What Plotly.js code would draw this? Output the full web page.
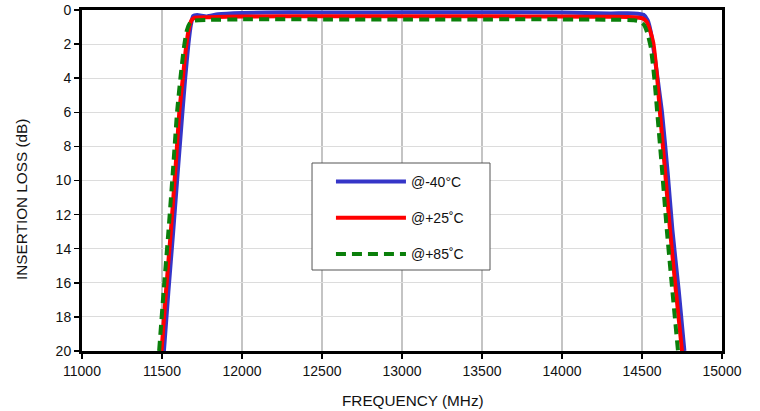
<!DOCTYPE html>
<html>
<head>
<meta charset="utf-8">
<script src="https://cdn.plot.ly/plotly-3.0.1.min.js"></script>
<style>html,body{margin:0;padding:0;background:#fff;}#chart{width:760px;height:411px;}</style>
</head>
<body>
<div id="chart"></div>
<script>
// Series names
const seriesNames = ["@-40°C", "@+25˚C", "@+85˚C"];

// @-40°C
const freqM40 = [11512, 11540, 11570, 11600, 11625, 11645, 11665, 11680, 11695, 11720, 11780, 11850, 12000, 12300, 12700, 13000, 13500, 14000, 14300, 14450, 14510, 14535, 14555, 14580, 14600, 14625, 14660, 14690, 14730, 14765];
const lossM40 = [20, 16.5, 13, 9.3, 6.3, 4, 2, 0.9, 0.35, 0.3, 0.38, 0.25, 0.17, 0.13, 0.15, 0.13, 0.13, 0.15, 0.2, 0.2, 0.28, 0.6, 1.3, 2.8, 4.2, 6, 9.5, 12.9, 16.5, 20];

// @+25°C
const freqP25 = [11497, 11525, 11555, 11585, 11608, 11630, 11650, 11668, 11685, 11705, 11800, 12000, 12500, 13000, 13500, 14000, 14300, 14450, 14500, 14530, 14550, 14570, 14596, 14612, 14640, 14675, 14712, 14750];
const lossP25 = [20, 16.5, 13, 9.2, 6, 4, 2.2, 1.1, 0.6, 0.45, 0.42, 0.38, 0.37, 0.36, 0.37, 0.38, 0.4, 0.42, 0.48, 0.7, 1.2, 1.9, 4.1, 6, 9, 12.9, 16.5, 20];

// @+85°C
const freqP85 = [11482, 11510, 11540, 11570, 11594, 11615, 11637, 11655, 11675, 11700, 11800, 12000, 12500, 13000, 13500, 14000, 14300, 14450, 14490, 14515, 14535, 14555, 14578, 14595, 14622, 14655, 14690, 14725];
const lossP85 = [20, 16.5, 13, 9.2, 6, 4, 2.2, 1.2, 0.75, 0.62, 0.58, 0.55, 0.55, 0.55, 0.55, 0.55, 0.57, 0.6, 0.68, 0.9, 1.4, 2.2, 4.1, 6, 9, 12.9, 16.5, 20];

// Axis ticks and titles
const xTicks = [11000, 11500, 12000, 12500, 13000, 13500, 14000, 14500, 15000];
const yTicks = [0, 2, 4, 6, 8, 10, 12, 14, 16, 18, 20];
const xTitle = "FREQUENCY (MHz)";
const yTitle = "INSERTION LOSS (dB)";

const traces = [
  {x: freqM40, y: lossM40, name: seriesNames[0], mode: "lines", legendgroup: "a",
   line: {color: "#3535c8", width: 4, shape: "spline", smoothing: 0.5}},
  {x: freqP25, y: lossP25, name: seriesNames[1], mode: "lines", legendgroup: "b",
   line: {color: "#ff0000", width: 4, shape: "spline", smoothing: 0.5}},
  {x: freqP85, y: lossP85, name: seriesNames[2], mode: "lines", legendgroup: "c",
   line: {color: "#0a7f0a", width: 4, dash: "10px,6px", shape: "spline", smoothing: 0.5}}
];

const FAM = "Liberation Sans, Arial, sans-serif";
const fnt = {family: FAM, size: 14, color: "#111"};
const titleFont = {family: FAM, size: 15.3, color: "#111"};

const layout = {
  width: 760, height: 411,
  margin: {l: 82, r: 38, t: 10, b: 60},
  paper_bgcolor: "#fff", plot_bgcolor: "#fff",
  font: fnt,
  showlegend: true,
  legend: {
    x: 0.389, y: 0.5425, xanchor: "left", yanchor: "top",
    bgcolor: "rgba(0,0,0,0)", borderwidth: 0,
    font: {family: FAM, size: 14, color: "#111"},
    tracegroupgap: 15, traceorder: "grouped", itemwidth: 70
  },
  shapes: [
    {type: "rect", xref: "paper", yref: "paper", x0: 0.3594, x1: 0.6375, y0: 0.2375, y1: 0.5513,
     fillcolor: "#fff", line: {color: "#555", width: 1}, layer: "above"}
  ],
  annotations: [
    {text: yTitle, xref: "paper", yref: "paper", x: -0.09375, y: 0.443,
     textangle: -90, showarrow: false, xanchor: "center", yanchor: "middle", font: titleFont},
    {text: xTitle, xref: "paper", yref: "paper", x: 0.517, y: -0.1466,
     showarrow: false, xanchor: "center", yanchor: "middle", font: titleFont}
  ],
  xaxis: {
    range: [11000, 15000], tickvals: xTicks, ticktext: xTicks.map(String),
    showgrid: true, gridcolor: "#c4c4c4", gridwidth: 2,
    showline: true, linecolor: "#000", linewidth: 3, mirror: true,
    ticks: "outside", ticklen: 5, tickwidth: 1.5, tickcolor: "#000",
    zeroline: false,
    tickfont: fnt
  },
  yaxis: {
    range: [20, 0], tickvals: yTicks, ticktext: yTicks.map(String),
    showgrid: true, gridcolor: "#dcdcdc", gridwidth: 1,
    showline: true, linecolor: "#000", linewidth: 3, mirror: true,
    ticks: "outside", ticklen: 5, tickwidth: 1.5, tickcolor: "#000",
    zeroline: false,
    tickfont: fnt
  }
};

Plotly.newPlot("chart", traces, layout, {displayModeBar: false, staticPlot: true});
</script>
</body>
</html>
